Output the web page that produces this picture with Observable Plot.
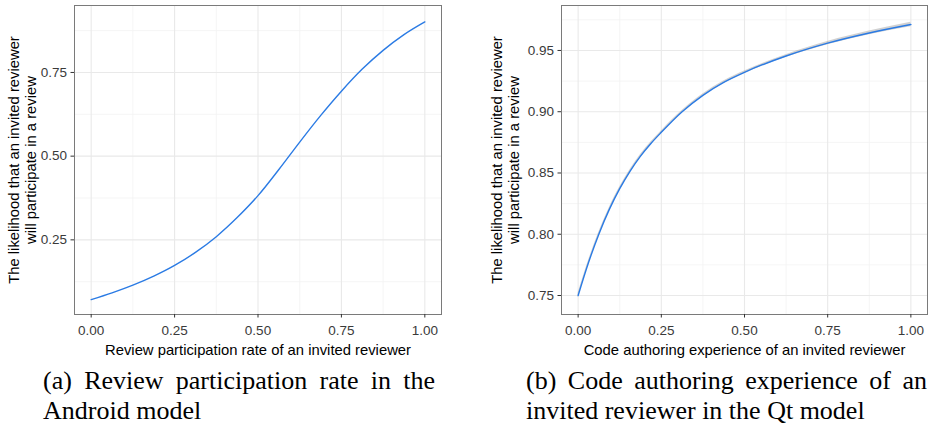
<!DOCTYPE html>
<html>
<head>
<meta charset="utf-8">
<script src="https://cdn.jsdelivr.net/npm/d3@7"></script>
<script src="https://cdn.jsdelivr.net/npm/@observablehq/plot@0.6"></script>
<style>
  body { margin: 0; background: #fff; }
  #wrap { position: relative; width: 930px; height: 428px; overflow: hidden; background: #fff; }
  #plots { display: flex; }
  .cap { position: absolute; font-family: "Liberation Serif", "Times New Roman", serif; font-size: 26px; line-height: 30px; text-align: justify; text-align-last: left; color: #000; }
</style>
</head>
<body>
<div id="wrap">
  <div id="plots"></div>
  <div class="cap" id="capA" style="left:43px; top:366px; width:392px;"></div>
  <div class="cap" id="capB" style="left:526px; top:366px; width:401px;"></div>
</div>
<script>
// ---- Panel (a): Android model ----
const androidX = [0, 0.0625, 0.125, 0.1875, 0.25, 0.3125, 0.375, 0.4375, 0.5, 0.5625, 0.625, 0.6875, 0.75, 0.8125, 0.875, 0.9375, 1.0];
const androidY = [0.0715, 0.0915, 0.1145, 0.1415, 0.1735, 0.2125, 0.2595, 0.3165, 0.382, 0.460, 0.542, 0.621, 0.694, 0.760, 0.816, 0.863, 0.901];

// ---- Panel (b): Qt model (fit with confidence band) ----
const qtX  = [0, 0.03125, 0.0625, 0.09375, 0.125, 0.15625, 0.1875, 0.21875, 0.25, 0.3125, 0.375, 0.4375, 0.5, 0.625, 0.75, 0.875, 1.0];
const qtY  = [0.750, 0.7769, 0.8003, 0.8203, 0.8372, 0.8516, 0.8638, 0.8741, 0.8832, 0.9000, 0.9134, 0.9240, 0.9322, 0.9455, 0.9560, 0.9643, 0.9712];
const qtLo = [0.7482, 0.7753, 0.7988, 0.8189, 0.8359, 0.8504, 0.8626, 0.8730, 0.8821, 0.8990, 0.9124, 0.9230, 0.9312, 0.9444, 0.9547, 0.9628, 0.9694];
const qtHi = [0.7518, 0.7785, 0.8018, 0.8217, 0.8385, 0.8528, 0.8650, 0.8752, 0.8843, 0.9010, 0.9144, 0.9250, 0.9332, 0.9466, 0.9573, 0.9658, 0.9730];

// ---- Ticks and labels ----
const xMajor = [0, 0.25, 0.5, 0.75, 1.0];
const xMinor = [0.125, 0.375, 0.625, 0.875];
const androidYMajor = [0.25, 0.5, 0.75];
const androidYMinor = [0.125, 0.375, 0.625, 0.875];
const qtYMajor = [0.75, 0.80, 0.85, 0.90, 0.95];
const qtYMinor = [0.775, 0.825, 0.875, 0.925, 0.975];

const yTitleLines = ["The likelihood that an invited reviewer", "will participate in a review"];
const androidXTitle = "Review participation rate of an invited reviewer";
const qtXTitle = "Code authoring experience of an invited reviewer";
const captionA = "(a) Review participation rate in the Android model";
const captionB = "(b) Code authoring experience of an invited reviewer in the Qt model";

const fmt = d3.format(".2f");

function panel(o) {
  const data = o.xs.map((x, i) => ({x, y: o.ys[i], lo: o.lo ? o.lo[i] : null, hi: o.hi ? o.hi[i] : null}));
  const marks = [
    Plot.ruleX(xMinor, {stroke: "#f3f3f3", strokeWidth: 0.8}),
    Plot.ruleY(o.yMinor, {stroke: "#f3f3f3", strokeWidth: 0.8}),
    Plot.ruleX(xMajor, {stroke: "#e9e9e9", strokeWidth: 1.1}),
    Plot.ruleY(o.yMajor, {stroke: "#e9e9e9", strokeWidth: 1.1})
  ];
  if (o.lo) marks.push(Plot.areaY(data, {x: "x", y1: "lo", y2: "hi", fill: "#999999", fillOpacity: 0.45, curve: "monotone-x"}));
  marks.push(
    Plot.line(data, {x: "x", y: "y", stroke: "#2b7be4", strokeWidth: 1.4, curve: "monotone-x"}),
    Plot.frame({stroke: "#7a7a7a", strokeWidth: 1}),
    Plot.axisX({ticks: xMajor, tickFormat: fmt, tickSize: 3.5, tickPadding: 7, stroke: "#333", fill: "#3a3a3a", label: null}),
    Plot.axisY({ticks: o.yMajor, tickFormat: fmt, tickSize: 3.5, tickPadding: 4, stroke: "#333", fill: "#3a3a3a", label: null}),
    Plot.text([o.xTitle], {text: d => d, frameAnchor: "bottom", dy: 40, lineAnchor: "bottom", textAnchor: "middle", fontSize: 14.8, fill: "#000"}),
    Plot.text([yTitleLines[0]], {text: d => d, frameAnchor: "left", dx: o.t1 - o.ml, rotate: -90, textAnchor: "middle", lineAnchor: "middle", fontSize: 14.8, fill: "#000"}),
    Plot.text([yTitleLines[1]], {text: d => d, frameAnchor: "left", dx: o.t2 - o.ml, rotate: -90, textAnchor: "middle", lineAnchor: "middle", fontSize: 14.8, fill: "#000"})
  );
  return Plot.plot({
    width: 465,
    height: 362,
    marginLeft: o.ml,
    marginRight: o.mr,
    marginTop: 5,
    marginBottom: 48,
    style: {fontFamily: "'Liberation Sans', Arial, sans-serif", fontSize: "13.5px", background: "#fff", overflow: "visible"},
    x: {domain: [-0.05, 1.05]},
    y: {domain: o.yDomain},
    marks
  });
}

const plots = document.getElementById("plots");
plots.append(panel({
  xs: androidX, ys: androidY, yDomain: [0.027, 0.950],
  yMajor: androidYMajor, yMinor: androidYMinor,
  xTitle: androidXTitle, ml: 74, mr: 24, t1: 13.3, t2: 31
}));
plots.append(panel({
  xs: qtX, ys: qtY, lo: qtLo, hi: qtHi, yDomain: [0.7345, 0.9867],
  yMajor: qtYMajor, yMinor: qtYMinor,
  xTitle: qtXTitle, ml: 96, mr: 3, t1: 32, t2: 48.7
}));
document.getElementById("capA").textContent = captionA;
document.getElementById("capB").textContent = captionB;
</script>
</body>
</html>
